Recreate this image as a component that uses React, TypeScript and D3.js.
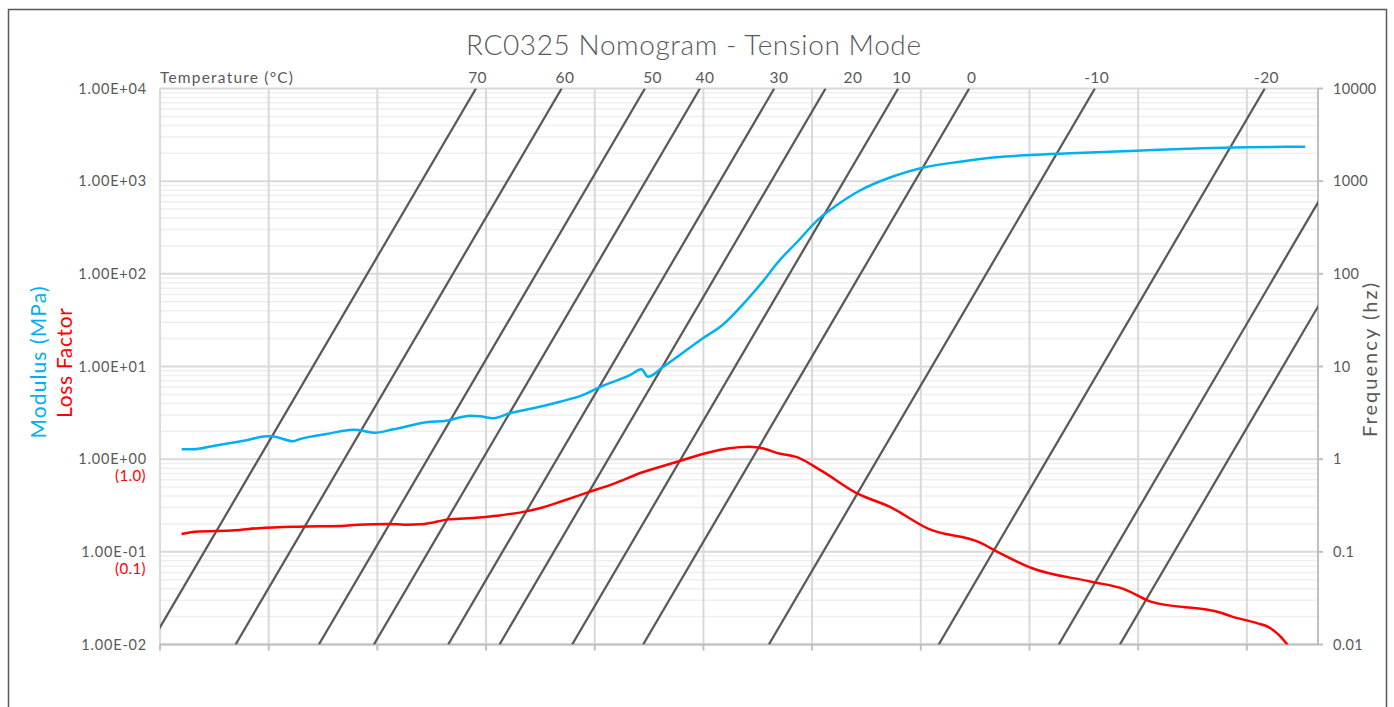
import React, { useEffect, useRef } from "react";
import * as d3 from "d3";

const chartTitle = "RC0325 Nomogram - Tension Mode";

// modulus (MPa) vs reduced frequency (hz)
const modulusFr = [
  2.51e-8, 4.1e-8, 9.57e-8, 3.94e-7, 9.18e-7, 1.13e-6, 2.84e-6, 3.77e-6, 1.17e-5, 3.61e-5,
  4.79e-5, 9.04e-5, 1.96e-4, 8.07e-4, 1.88e-3, 5.06e-3, 7.73e-3, 1.36e-2, 2.75e-2, 7.38e-2,
  0.229, 0.615, 1.25, 4.52, 7.21, 9.53, 18.3, 97.9, 225, 631,
  1455, 2113, 5358, 13614, 28708, 72946, 3.24e5, 1.08e6, 5.28e6, 2.35e7,
  1.04e8, 5.58e8, 9.12e9, 1.49e11, 9.6e11, 1.19e13,
];
const modulusVal = [
  1.28, 1.28, 1.39, 1.6, 1.77, 1.77, 1.56, 1.65, 1.87, 2.08,
  2.05, 1.93, 2.1, 2.5, 2.6, 2.95, 2.9, 2.76, 3.13, 3.54,
  4.17, 4.93, 6.01, 8.1, 9.33, 7.76, 9.95, 20.2, 28.1, 52.2,
  93.1, 124, 222, 397, 553, 783, 1137, 1397, 1622, 1811,
  1916, 2000, 2132, 2263, 2319, 2355,
];

// loss factor vs reduced frequency (hz)
const lossFr = [
  2.49e-8, 4.46e-8, 2.39e-7, 6.52e-7, 3.49e-6, 2.2e-5, 4.33e-5, 1.65e-4, 3.22e-4, 7.45e-4,
  2.04e-3, 6.61e-3, 1.53e-2, 4.17e-2, 0.114, 0.264, 0.721, 2.33, 7.55, 28.8,
  110, 301, 697, 1365, 2234, 5297, 14723, 70632, 2.67e5, 1.39e6,
  1.24e7, 2.74e7, 1.12e8, 1.38e9, 5.65e9, 1.7e10, 3.34e11, 5.35e11, 1.6e12, 2.56e12,
  4.05e12, 5.61e12,
];
const lossVal = [
  0.156, 0.165, 0.171, 0.18, 0.187, 0.19, 0.196, 0.2, 0.196, 0.2,
  0.224, 0.233, 0.245, 0.265, 0.303, 0.356, 0.435, 0.549, 0.722, 0.916,
  1.16, 1.31, 1.36, 1.29, 1.17, 1.05, 0.751, 0.421, 0.307, 0.177,
  0.126, 0.098, 0.0665, 0.0476, 0.0394, 0.029, 0.022, 0.02, 0.0169, 0.0153,
  0.0124, 0.0099,
];

// isotherms: shift factor aT (reduced freq = freq * aT)
const isoTemps = [70, 60, 50, 40, 30, 20, 10, 0, -10, -20, -30, -40];
const isoShift = [6.52e-7, 2.46e-5, 8.39e-4, 8.63e-3, 0.201, 1.77, 38.4, 778, 1.6e5, 2.14e8, 3.46e10, 4.61e11];
const isoLabelFr = [7.0e-3, 0.283, 11.6, 107, 2449, 5.64e4, 4.44e5, 8.61e6, 1.72e9, 2.3e12, null, null];

const yTicks = [1e-2, 1e-1, 1, 10, 100, 1000, 10000];
const leftTickLabels = ["1.00E-02", "1.00E-01", "1.00E+00", "1.00E+01", "1.00E+02", "1.00E+03", "1.00E+04"];
const rightTickLabels = ["0.01", "0.1", "1", "10", "100", "1000", "10000"];
const lossTicks = [1, 0.1];
const lossTickLabels = ["(1.0)", "(0.1)"];
const xGridTicks = [1e-8, 1e-6, 1e-4, 1e-2, 1, 1e2, 1e4, 1e6, 1e8, 1e10, 1e12];
const xDomain = [1e-8, 2.04e13];

const W = 1394;
const H = 707;
const TEXT = "#595959";
const FONT = "Lato, 'Noto Sans', sans-serif";

export default function App() {
  const ref = useRef<SVGSVGElement>(null);

  useEffect(() => {
    const svg = d3.select(ref.current);
    svg.selectAll("*").remove();

    const left = 160, right = 1318, top = 88.5, bottom = 644.5;

    const x = d3.scaleLog().domain(xDomain).range([left, right]);
    const y = d3.scaleLog().domain([0.01, 10000]).range([bottom, top]);
    const yFreq = d3.scaleLog().domain([0.01, 10000]).range([bottom, top]);

    svg.append("defs").append("clipPath").attr("id", "plotClip")
      .append("rect").attr("x", left).attr("y", top).attr("width", right - left).attr("height", bottom - top);

    // chart frame
    svg.append("rect")
      .attr("x", 8.5).attr("y", 9.5).attr("width", 1378).attr("height", 730)
      .attr("fill", "#fff").attr("stroke", TEXT).attr("stroke-width", 1.5);

    // title
    svg.append("text")
      .attr("x", 693.5).attr("y", 54.5)
      .attr("text-anchor", "middle")
      .attr("font-size", 28).attr("font-weight", 300).attr("fill", TEXT)
      .attr("textLength", 455).attr("lengthAdjust", "spacing")
      .text(chartTitle);

    // minor gridlines
    const minor = yTicks.slice(0, -1).flatMap(t => d3.range(2, 10).map(k => t * k));
    svg.append("g").selectAll("line").data(minor).join("line")
      .attr("x1", left).attr("x2", right)
      .attr("y1", d => y(d)).attr("y2", d => y(d))
      .attr("stroke", "#efefef").attr("stroke-width", 1.5);

    // major gridlines
    svg.append("g").selectAll("line").data(yTicks).join("line")
      .attr("x1", left).attr("x2", right)
      .attr("y1", d => y(d)).attr("y2", d => y(d))
      .attr("stroke", "#d9d9d9").attr("stroke-width", 2);
    svg.append("g").selectAll("line").data(xGridTicks).join("line")
      .attr("x1", d => x(d)).attr("x2", d => x(d))
      .attr("y1", top).attr("y2", bottom)
      .attr("stroke", "#d9d9d9").attr("stroke-width", 2);

    // bottom axis
    svg.append("line").attr("x1", left).attr("x2", right).attr("y1", bottom).attr("y2", bottom)
      .attr("stroke", "#bfbfbf").attr("stroke-width", 2);
    svg.append("g").selectAll("line").data(xGridTicks).join("line")
      .attr("x1", d => x(d)).attr("x2", d => x(d))
      .attr("y1", bottom).attr("y2", bottom + 6)
      .attr("stroke", "#bfbfbf").attr("stroke-width", 2);

    // right axis
    svg.append("line").attr("x1", right).attr("x2", right).attr("y1", top).attr("y2", bottom)
      .attr("stroke", "#bfbfbf").attr("stroke-width", 2);
    svg.append("g").selectAll("line").data(yTicks).join("line")
      .attr("x1", right).attr("x2", right + 5)
      .attr("y1", d => yFreq(d)).attr("y2", d => yFreq(d))
      .attr("stroke", "#bfbfbf").attr("stroke-width", 2);
    svg.append("g").selectAll("text").data(yTicks).join("text")
      .attr("x", 1333).attr("y", d => yFreq(d)).attr("dy", "0.35em")
      .attr("font-size", 14.5).attr("letter-spacing", 0.3).attr("fill", TEXT)
      .text((d, i) => rightTickLabels[i]);

    // left axis labels
    svg.append("g").selectAll("text").data(yTicks).join("text")
      .attr("x", 147).attr("y", d => y(d)).attr("dy", "0.35em")
      .attr("text-anchor", "end")
      .attr("font-size", 14.5).attr("letter-spacing", 0.8).attr("fill", TEXT)
      .text((d, i) => leftTickLabels[i]);
    svg.append("g").selectAll("text").data(lossTicks).join("text")
      .attr("x", 146).attr("y", d => y(d) + 17).attr("dy", "0.35em")
      .attr("text-anchor", "end")
      .attr("font-size", 15).attr("letter-spacing", 0.4).attr("fill", "#ff0000")
      .text((d, i) => lossTickLabels[i]);

    // isotherms
    const iso = svg.append("g").attr("clip-path", "url(#plotClip)");
    isoTemps.forEach((t, i) => {
      const aT = isoShift[i];
      iso.append("line")
        .attr("x1", x(0.01 * aT)).attr("y1", yFreq(0.01))
        .attr("x2", x(10000 * aT)).attr("y2", yFreq(10000))
        .attr("stroke", TEXT).attr("stroke-width", 2.25);
    });
    svg.append("g").selectAll("text")
      .data(isoTemps.map((t, i) => ({ t, fr: isoLabelFr[i] })).filter(d => d.fr != null))
      .join("text")
      .attr("x", d => x(d.fr as number)).attr("y", 83)
      .attr("text-anchor", "middle")
      .attr("font-size", 15.5).attr("letter-spacing", 0.4).attr("fill", TEXT)
      .text(d => String(d.t));
    svg.append("text")
      .attr("x", 160).attr("y", 83)
      .attr("font-size", 15.5).attr("fill", TEXT)
      .attr("textLength", 133).attr("lengthAdjust", "spacing")
      .text("Temperature (°C)");

    // curves
    const line = d3.line<[number, number]>()
      .x(d => x(d[0])).y(d => y(d[1]))
      .curve(d3.curveMonotoneX);
    const curves = svg.append("g").attr("clip-path", "url(#plotClip)");
    curves.append("path")
      .datum(modulusFr.map((f, i) => [f, modulusVal[i]] as [number, number]))
      .attr("fill", "none").attr("stroke", "#00b0f0").attr("stroke-width", 2.5)
      .attr("d", line);
    curves.append("path")
      .datum(lossFr.map((f, i) => [f, lossVal[i]] as [number, number]))
      .attr("fill", "none").attr("stroke", "#ff0000").attr("stroke-width", 2.5)
      .attr("d", line);

    // axis titles
    svg.append("text")
      .attr("transform", "translate(45.5,362.5) rotate(-90)")
      .attr("text-anchor", "middle")
      .attr("font-size", 21).attr("fill", "#00b0f0")
      .attr("textLength", 152).attr("lengthAdjust", "spacing")
      .text("Modulus (MPa)");
    svg.append("text")
      .attr("transform", "translate(71.5,363) rotate(-90)")
      .attr("text-anchor", "middle")
      .attr("font-size", 21).attr("fill", "#ff0000")
      .attr("textLength", 110).attr("lengthAdjust", "spacing")
      .text("Loss Factor");
    svg.append("text")
      .attr("transform", "translate(1377,360) rotate(-90)")
      .attr("text-anchor", "middle")
      .attr("font-size", 20).attr("fill", TEXT)
      .attr("textLength", 154).attr("lengthAdjust", "spacing")
      .text("Frequency (hz)");
  }, []);

  return (
    <svg
      ref={ref}
      width={W}
      height={H}
      style={{ position: "absolute", left: 0, top: 0, display: "block", fontFamily: FONT }}
    />
  );
}
